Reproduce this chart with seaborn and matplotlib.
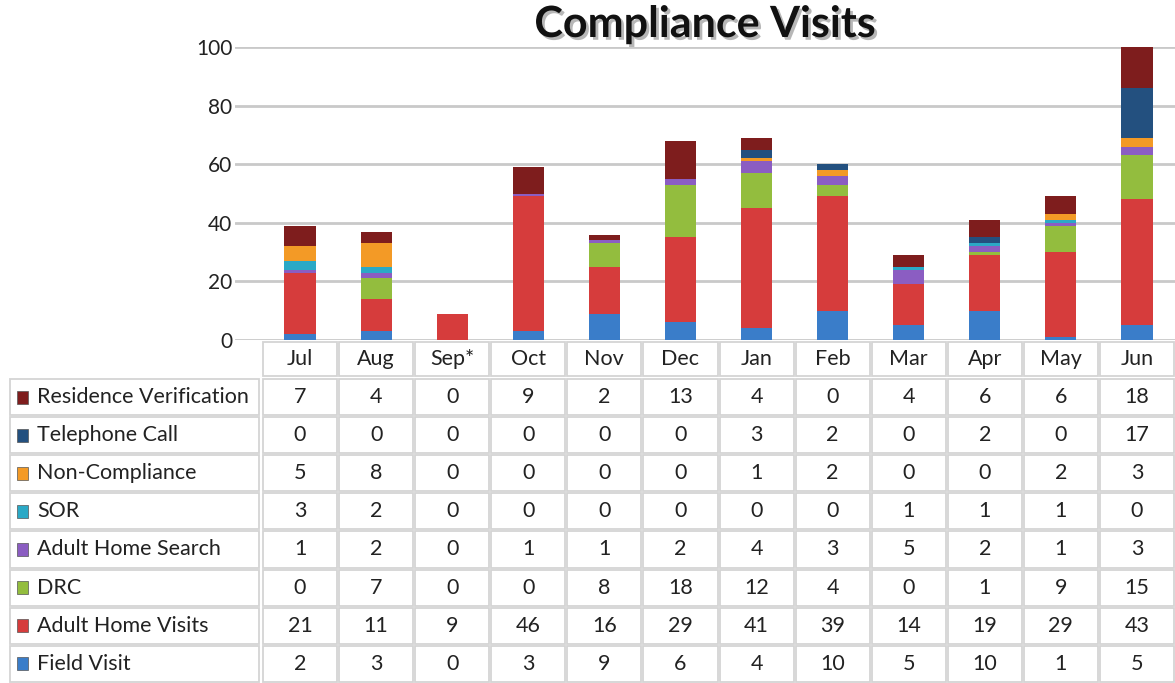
import matplotlib
matplotlib.use("Agg")
import matplotlib.pyplot as plt
import matplotlib.patheffects as pe
from matplotlib.patches import Rectangle
import seaborn as sns
import numpy as np

months = ["Jul", "Aug", "Sep*", "Oct", "Nov", "Dec", "Jan", "Feb", "Mar", "Apr", "May", "Jun"]
# stacking order bottom -> top
series_names = ["Field Visit", "Adult Home Visits", "DRC", "Adult Home Search",
                "SOR", "Non-Compliance", "Telephone Call", "Residence Verification"]
field_visit = [2, 3, 0, 3, 9, 6, 4, 10, 5, 10, 1, 5]
adult_home_visits = [21, 11, 9, 46, 16, 29, 41, 39, 14, 19, 29, 43]
drc = [0, 7, 0, 0, 8, 18, 12, 4, 0, 1, 9, 15]
adult_home_search = [1, 2, 0, 1, 1, 2, 4, 3, 5, 2, 1, 3]
sor = [3, 2, 0, 0, 0, 0, 0, 0, 1, 1, 1, 0]
non_compliance = [5, 8, 0, 0, 0, 0, 1, 2, 0, 0, 2, 3]
telephone_call = [0, 0, 0, 0, 0, 0, 3, 2, 0, 2, 0, 17]
residence_verification = [7, 4, 0, 9, 2, 13, 4, 0, 4, 6, 6, 18]
yticks = [0, 20, 40, 60, 80, 100]

series_values = [field_visit, adult_home_visits, drc, adult_home_search,
                 sor, non_compliance, telephone_call, residence_verification]
colors = ["#3A7DC9", "#D63C3C", "#93BD3E", "#8B5DC2",
          "#2BA9C6", "#F39A26", "#23507F", "#7E1D1D"]

sns.set_style("white")
plt.rcParams["font.family"] = ["Lato", "DejaVu Sans"]

W, H = 1175, 683
fig = plt.figure(figsize=(W / 100, H / 100), dpi=100)

L, R, T, B = 235, 1175, 47, 340
ax = fig.add_axes([L / W, 1 - B / H, (R - L) / W, (B - T) / H])
colw = (1175 - 262) / 12.0

ax.yaxis.grid(True, color="#C9C9C9", linewidth=2, zorder=0)
ax.set_axisbelow(True)

bottom = np.zeros(len(months))
for name, vals, col in zip(series_names, series_values, colors):
    vals = np.array(vals, dtype=float)
    sns.barplot(x=months, y=vals, order=months, color=col, width=0.41,
                bottom=bottom, errorbar=None, ax=ax, linewidth=0,
                saturation=1, zorder=3)
    bottom = bottom + vals

ax.set_xlim(-0.5 - (262 - L) / colw, 11.5)
ax.set_ylim(0, 100)
ax.set_yticks(yticks)
ax.set_yticklabels([str(t) for t in yticks], fontsize=15, color="#222222")
ax.tick_params(axis="y", length=0, pad=2)
ax.set_xticks([])
ax.set_xlabel("")
ax.set_ylabel("")
for s in ax.spines.values():
    s.set_visible(False)

fig.text((L + R) / 2 / W, 1 - 24 / H, "Compliance Visits", ha="center", va="center",
         fontsize=31, fontweight="bold", color="#111111",
         path_effects=[pe.withSimplePatchShadow(offset=(2, -2), shadow_rgbFace="#888888", alpha=0.6)])

# data table
tax = fig.add_axes([0, 0, 1, 343 / H])
tax.set_xlim(0, W)
tax.set_ylim(683, 340)
tax.axis("off")

fs = 15.5
edge = "#D4D4D4"
col_left = [262 + i * colw for i in range(12)]
# header row
for i, m in enumerate(months):
    tax.add_patch(Rectangle((col_left[i] + 1, 342), colw - 2, 34, facecolor="white",
                            edgecolor=edge, linewidth=1.3))
    tax.text(col_left[i] + colw / 2, 359, m, ha="center", va="center", fontsize=fs, color="#222222")

row_top0 = 378
rowh = 38.1
rows = list(zip(series_names, series_values, colors))[::-1]
for r, (name, vals, col) in enumerate(rows):
    y0 = row_top0 + r * rowh
    tax.add_patch(Rectangle((10, y0 + 1), 249, rowh - 2, facecolor="white",
                            edgecolor=edge, linewidth=1.3))
    tax.add_patch(Rectangle((17, y0 + rowh / 2 - 6.5), 11, 13, facecolor=col,
                            edgecolor="#555555", linewidth=0.5))
    tax.text(37, y0 + rowh / 2, name, ha="left", va="center", fontsize=fs, color="#222222")
    for i, v in enumerate(vals):
        tax.add_patch(Rectangle((col_left[i] + 1, y0 + 1), colw - 2, rowh - 2, facecolor="white",
                                edgecolor=edge, linewidth=1.3))
        tax.text(col_left[i] + colw / 2, y0 + rowh / 2, str(v), ha="center", va="center",
                 fontsize=fs, color="#222222")

fig.savefig("out.png", dpi=100)
